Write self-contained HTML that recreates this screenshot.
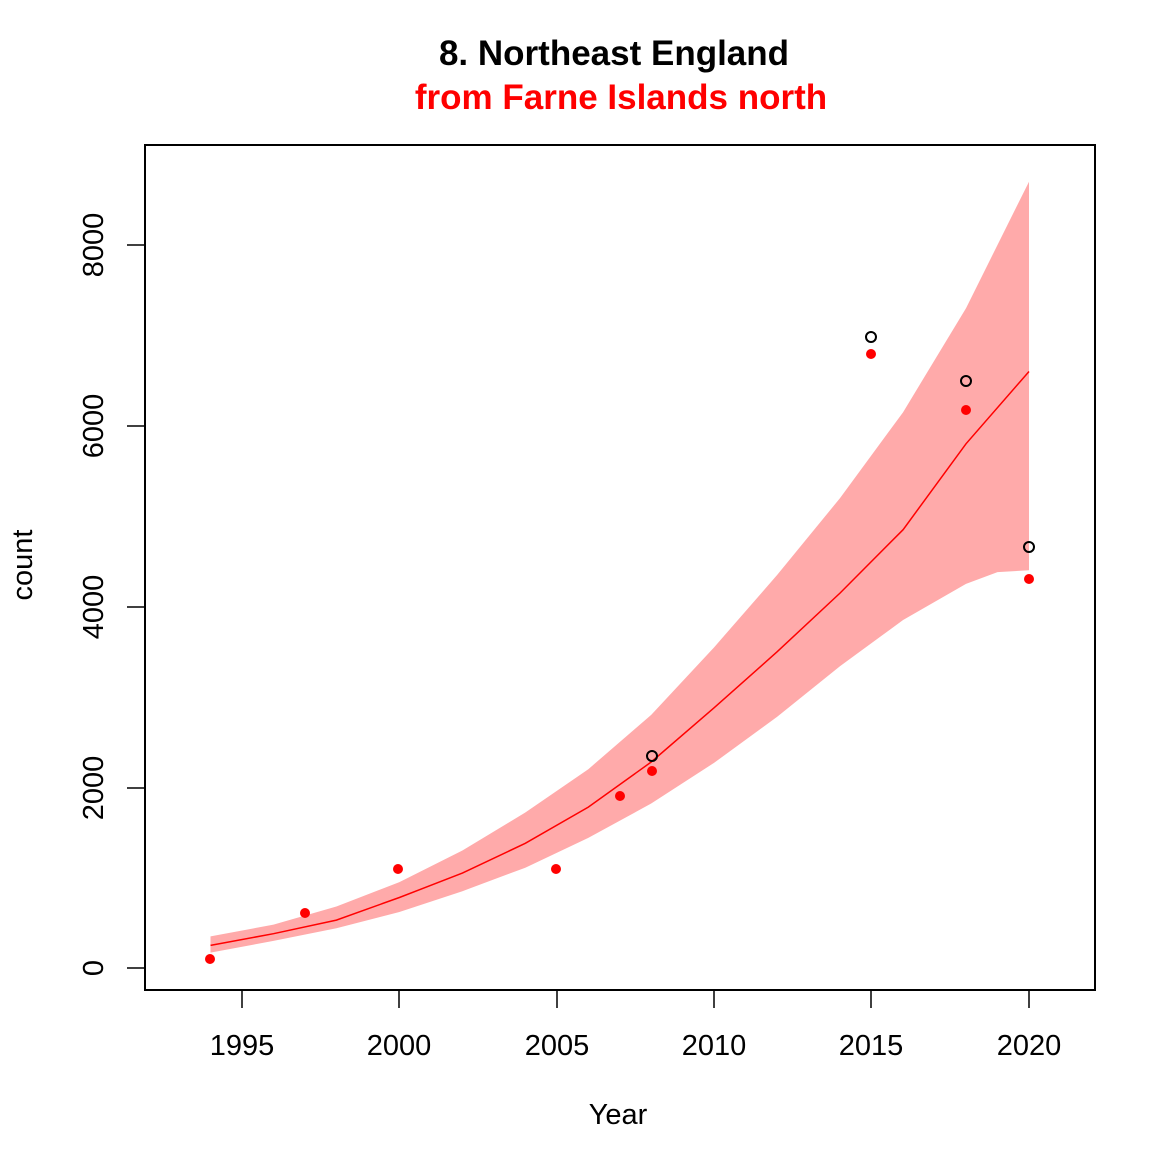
<!DOCTYPE html>
<html><head><style>body{margin:0;background:#fff}</style></head><body>
<svg width="1170" height="1170" xmlns="http://www.w3.org/2000/svg" font-family="Liberation Sans, Arial, sans-serif">
<rect width="1170" height="1170" fill="#fff"/>
<polygon fill="#ffaaaa" points="210.5,936.4 273.5,924.6 336.4,906.5 399.4,882.1 462.4,850.5 525.3,812.5 588.3,769.2 651.2,714.9 714.2,647.2 777.2,574.9 840.1,498 903.1,412.2 966,308.2 1029,181.7 1029,570.3 997.5,572.1 966,583.9 903.1,620 840.1,666.1 777.2,716.7 714.2,762.8 651.2,803.5 588.3,837.9 525.3,867.7 462.4,891.2 399.4,912 336.4,928.2 273.5,940.9 210.5,952.6"/>
<polyline fill="none" stroke="#ff0000" stroke-width="1.5" points="210.5,945.4 273.5,933.7 336.4,920.1 399.4,897.5 462.4,873.1 525.3,843.3 588.3,807.1 651.2,762 714.2,707.7 777.2,651.7 840.1,593 903.1,529.7 966,443.8 1029,371.5"/>
<g fill="#ff0000">
<circle cx="210" cy="959" r="5"/><circle cx="305" cy="913" r="5"/><circle cx="398" cy="869" r="5"/><circle cx="556" cy="869" r="5"/><circle cx="620" cy="796" r="5"/><circle cx="652" cy="771" r="5"/><circle cx="871" cy="354" r="5"/><circle cx="966" cy="410" r="5"/><circle cx="1029" cy="579" r="5"/>
</g>
<g fill="none" stroke="#000" stroke-width="2">
<circle cx="652" cy="756" r="5"/><circle cx="871" cy="337" r="5"/><circle cx="966" cy="381" r="5"/><circle cx="1029" cy="547" r="5"/>
</g>
<rect x="145" y="145" width="950" height="845" fill="none" stroke="#000" stroke-width="2"/>
<g stroke="#000" stroke-width="1.5">
<line x1="242" y1="990" x2="242" y2="1008"/><line x1="399" y1="990" x2="399" y2="1008"/><line x1="557" y1="990" x2="557" y2="1008"/><line x1="714" y1="990" x2="714" y2="1008"/><line x1="871" y1="990" x2="871" y2="1008"/><line x1="1029" y1="990" x2="1029" y2="1008"/>
<line x1="145" y1="968" x2="127" y2="968"/><line x1="145" y1="788" x2="127" y2="788"/><line x1="145" y1="607" x2="127" y2="607"/><line x1="145" y1="426" x2="127" y2="426"/><line x1="145" y1="245" x2="127" y2="245"/>
</g>
<g font-size="29" text-anchor="middle" fill="#000">
<text x="242" y="1055">1995</text><text x="399" y="1055">2000</text><text x="557" y="1055">2005</text><text x="714" y="1055">2010</text><text x="871" y="1055">2015</text><text x="1029" y="1055">2020</text>
<g transform="translate(103,0)">
<text transform="translate(0,968) rotate(-90)">0</text>
<text transform="translate(0,788) rotate(-90)">2000</text>
<text transform="translate(0,607) rotate(-90)">4000</text>
<text transform="translate(0,426) rotate(-90)">6000</text>
<text transform="translate(0,245) rotate(-90)">8000</text>
</g>
<text x="618" y="1124">Year</text>
<text transform="translate(32,565) rotate(-90)">count</text>
<text x="614" y="65" font-size="35" font-weight="bold">8. Northeast England</text>
<text x="621" y="109" font-size="35" font-weight="bold" fill="#ff0000">from Farne Islands north</text>
</g>
</svg>
</body></html>
